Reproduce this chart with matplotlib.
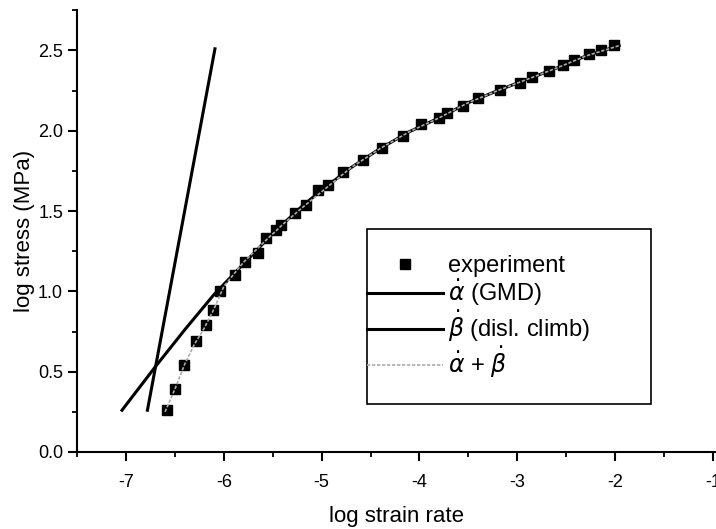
import numpy as np
import matplotlib
matplotlib.use("Agg")
import matplotlib.pyplot as plt
from matplotlib.patches import Rectangle

plt.rcParams['font.family'] = ['Liberation Sans', 'DejaVu Sans']
plt.rcParams['axes.unicode_minus'] = False
plt.rcParams['mathtext.fontset'] = 'dejavusans'

# experiment points (log strain rate, log stress)
exp_rate = [-6.585, -6.500, -6.408, -6.286, -6.177, -6.109, -6.041, -5.888, -5.786,
            -5.650, -5.564, -5.462, -5.411, -5.276, -5.156, -5.038, -4.936, -4.783,
            -4.579, -4.385, -4.170, -3.983, -3.796, -3.714, -3.558, -3.405, -3.177,
            -2.969, -2.854, -2.673, -2.531, -2.418, -2.265, -2.146, -2.010]
exp_stress = [0.26, 0.39, 0.54, 0.69, 0.79, 0.885, 1.00, 1.10, 1.185,
              1.24, 1.33, 1.385, 1.415, 1.49, 1.54, 1.63, 1.665, 1.74,
              1.815, 1.895, 1.97, 2.04, 2.08, 2.11, 2.155, 2.205, 2.255,
              2.30, 2.335, 2.37, 2.41, 2.44, 2.475, 2.50, 2.535]

# alpha (GMD) curve
gmd_rate = [-7.04, -6.70, -6.40, -6.10, -5.80, -5.50, -5.20, -5.00, -4.70, -4.40,
            -4.10, -3.80, -3.50, -3.20, -2.90, -2.60, -2.30, -1.96]
gmd_stress = [0.26, 0.53, 0.76, 0.98, 1.17, 1.36, 1.53, 1.63, 1.77, 1.89,
              1.995, 2.08, 2.175, 2.25, 2.32, 2.39, 2.465, 2.53]

# beta (dislocation climb) line
climb_rate = [-6.78, -6.09]
climb_stress = [0.26, 2.51]

# alpha + beta
sum_rate = [-6.60, -6.50, -6.40, -6.30, -6.20, -6.10, -6.00, -5.80, -5.60, -5.40,
            -5.20, -5.00, -4.70, -4.40, -4.10, -3.80, -3.50, -3.20, -2.90, -2.60,
            -2.30, -1.96]
sum_stress = [0.25, 0.39, 0.545, 0.67, 0.77, 0.89, 1.03, 1.18, 1.30, 1.415,
              1.52, 1.62, 1.77, 1.89, 1.995, 2.08, 2.175, 2.25, 2.32, 2.39,
              2.465, 2.53]

fig = plt.figure(figsize=(7.16, 5.29), dpi=100)
ax = fig.add_axes([0.1075, 0.1456, 0.8925, 0.835])

ax.plot(exp_rate, exp_stress, 's', color='black', markersize=7, label='experiment', zorder=3)
ax.plot(gmd_rate, gmd_stress, '-', color='black', lw=2.2, label=r'$\dot{\alpha}$ (GMD)', zorder=2)
ax.plot(climb_rate, climb_stress, '-', color='black', lw=2.2, label=r'$\dot{\beta}$ (disl. climb)', zorder=2)
ax.plot(sum_rate, sum_stress, color='#aaaaaa', lw=1.2, ls=(0, (2, 1)),
        label=r'$\dot{\alpha}$ + $\dot{\beta}$', zorder=4)

ax.set_xlim(-7.5, -0.97)
ax.set_ylim(0, 2.75)
ax.set_xticks([-7, -6, -5, -4, -3, -2, -1])
ax.set_xticks(np.arange(-7.5, -0.9, 0.5), minor=True)
ax.set_yticks([0.0, 0.5, 1.0, 1.5, 2.0, 2.5])
ax.set_yticks(np.arange(0, 2.76, 0.25), minor=True)
ax.set_yticklabels(['0.0', '0.5', '1.0', '1.5', '2.0', '2.5'])

for s in ['top', 'right']:
    ax.spines[s].set_visible(False)
for s in ['left', 'bottom']:
    ax.spines[s].set_linewidth(1.5)
ax.tick_params(which='major', direction='out', length=6.5, width=1.5, labelsize=13)
ax.tick_params(axis='x', which='major', pad=9)
ax.tick_params(which='minor', direction='out', length=3.5, width=1.3)

ax.set_xlabel('log strain rate', fontsize=16, labelpad=11)
ax.set_ylabel('log stress (MPa)', fontsize=16, labelpad=2)

# legend box drawn separately so the handles can touch its left edge
ax.add_patch(Rectangle((0.4538, 0.1086), 0.4445, 0.3959, transform=ax.transAxes,
                       fill=False, edgecolor='black', lw=1.2, zorder=5))
leg = ax.legend(loc='upper left', bbox_to_anchor=(0.4538, 0.445), fontsize=17,
                frameon=False, handlelength=3.2, handletextpad=0.25,
                borderpad=0, labelspacing=0.0, borderaxespad=0)

fig.savefig('out.png', dpi=100)
